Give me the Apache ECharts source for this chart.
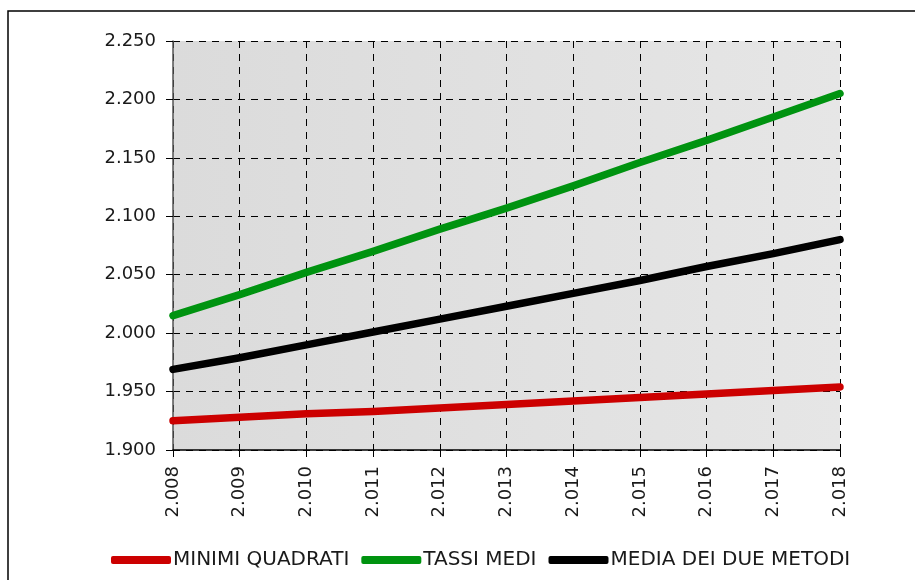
<!DOCTYPE html>
<html>
<head>
<meta charset="utf-8">
<script src="https://cdn.jsdelivr.net/npm/echarts@6/dist/echarts.min.js"></script>
<style>
  html, body { margin: 0; padding: 0; background: #fff; }
  #chart { width: 915px; height: 580px; }
</style>
</head>
<body>
<div id="chart"></div>
<script>
// anni (categorie)
var anni = ['2008', '2009', '2010', '2011', '2012', '2013', '2014', '2015', '2016', '2017', '2018'];
// serie
var minimiQuadrati = [1925, 1928, 1931, 1933, 1936, 1939, 1942, 1945, 1948, 1951, 1954];
var tassiMedi = [2015, 2033, 2052, 2070, 2089, 2107, 2126, 2146, 2165, 2185, 2205];
var mediaMetodi = [1969, 1979, 1990, 2001, 2012, 2023, 2034, 2045, 2057, 2068, 2080];

var fontName = 'DejaVu Sans';

// separatore migliaia all'italiana
function migliaia(v) {
    return String(v).replace(/\B(?=(\d{3})+(?!\d))/g, '.');
}

var chart = echarts.init(document.getElementById('chart'));

var option = {
    animation: false,
    textStyle: { fontFamily: fontName },
    graphic: [{
        type: 'rect',
        shape: { x: 8, y: 11, width: 940, height: 620 },
        style: { fill: 'none', stroke: '#000', lineWidth: 1.5 },
        z: -1
    }],
    grid: {
        left: 173, right: 75, top: 41, bottom: 130,
        show: true,
        borderWidth: 0,
        backgroundColor: new echarts.graphic.LinearGradient(0, 0, 1, 0, [
            { offset: 0, color: '#dbdbdb' },
            { offset: 1, color: '#e6e6e6' }
        ])
    },
    legend: {
        top: 545,
        left: 106,
        icon: 'roundRect',
        itemWidth: 60,
        itemHeight: 8,
        itemGap: 12,
        textStyle: { fontSize: 20, color: '#1a1a1a', fontFamily: fontName, padding: [0, 0, 0, -3] },
        data: ['MINIMI QUADRATI', 'TASSI MEDI', 'MEDIA DEI DUE METODI']
    },
    xAxis: {
        type: 'category',
        data: anni,
        boundaryGap: false,
        axisLine: { lineStyle: { color: '#000', width: 1.5 } },
        axisTick: { show: true, length: 7, lineStyle: { color: '#000' } },
        axisLabel: {
            rotate: 90,
            fontSize: 18,
            color: '#1a1a1a',
            margin: 16,
            formatter: function (v) { return migliaia(v); }
        },
        splitLine: { show: true, lineStyle: { color: '#000', type: [7, 6], width: 1 } }
    },
    yAxis: {
        type: 'value',
        min: 1900,
        max: 2250,
        interval: 50,
        axisLine: { show: true, lineStyle: { color: '#555', width: 1.5 } },
        axisTick: { show: true, length: 7, lineStyle: { color: '#000' } },
        axisLabel: {
            fontSize: 18,
            color: '#1a1a1a',
            margin: 17,
            formatter: function (v) { return migliaia(v); }
        },
        splitLine: { show: true, lineStyle: { color: '#000', type: [7, 6], width: 1 } }
    },
    series: [
        {
            name: 'MINIMI QUADRATI',
            type: 'line',
            data: minimiQuadrati,
            showSymbol: false,
            color: '#cc0000',
            lineStyle: { width: 7.5, cap: 'round', join: 'round' }
        },
        {
            name: 'TASSI MEDI',
            type: 'line',
            data: tassiMedi,
            showSymbol: false,
            color: '#009310',
            lineStyle: { width: 7.5, cap: 'round', join: 'round' }
        },
        {
            name: 'MEDIA DEI DUE METODI',
            type: 'line',
            data: mediaMetodi,
            showSymbol: false,
            color: '#000000',
            lineStyle: { width: 7.5, cap: 'round', join: 'round' }
        }
    ]
};

chart.setOption(option);
</script>
</body>
</html>
